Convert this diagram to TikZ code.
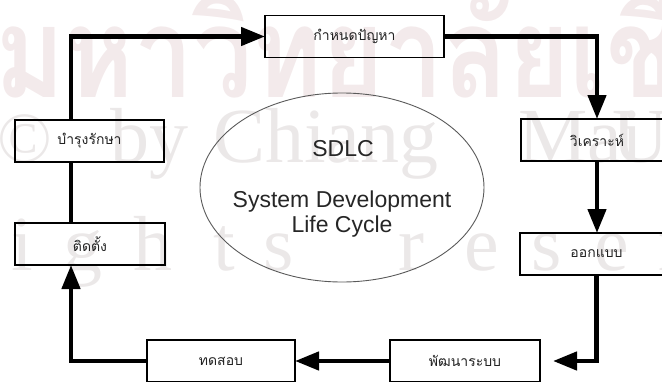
\documentclass[tikz,border=0pt]{standalone}
\usepackage{fontspec}
\setmainfont{Liberation Sans}
\newfontfamily\thaifont[Script=Thai]{Loma}
\newfontfamily\stampserif{Liberation Serif}
\usetikzlibrary{arrows.meta,shapes.geometric}

\definecolor{stamprose}{RGB}{243,234,235}
\definecolor{stampgray}{RGB}{235,232,232}
\definecolor{ovalline}{RGB}{90,90,90}
\definecolor{labeltext}{RGB}{34,34,34}

\begin{document}
\begin{tikzpicture}[x=1pt,y=-1pt,
  stage/.style={draw=black, line width=1.8pt, minimum height=42pt, inner sep=0pt, outer sep=0pt,
                font=\thaifont\fontsize{14}{16}\selectfont, text=labeltext},
  flow/.style={line width=4.5pt, -{Triangle[length=24pt,width=18pt]}},
  link/.style={line width=4.5pt},
  stamp/.style={inner sep=0pt, outer sep=0pt, anchor=base west},
  title/.style={inner sep=0pt, anchor=base, font=\fontsize{23}{26}\selectfont, text=black!85},
]
\useasboundingbox (0,0) rectangle (662,381);
\clip (0,0) rectangle (662,381);

% faint background stamp
\node[stamp, text=stamprose, font=\thaifont\bfseries\fontsize{120}{120}\selectfont] (s1) at (-5,97)
  {\scalebox{0.88}[1.05]{มหาวิทยาลัยเชียงใหม่}};
\begin{scope}[every node/.style={stamp, text=stampgray, font=\stampserif\fontsize{78}{80}\selectfont}]
  \node (s2a) at (-2,162) {\fontsize{72}{72}\selectfont ©};
  \node (s2b) at (110,162) {by};
  \node (s2c) at (213,162) {Chiang};
  \node (s2d) at (518,162) {Mai};
  \node (s2e) at (612,162) {University};
  \node (s3a) at (12,270) {i};
  \node (s3b) at (63,270) {g};
  \node (s3c) at (133,270) {h};
  \node (s3d) at (213,270) {t};
  \node (s3e) at (263,270) {s};
  \node (s3f) at (398,270) {r};
  \node (s3g) at (464,270) {e};
  \node (s3h) at (531,270) {s};
  \node (s3i) at (594,270) {e};
  \node (s3j) at (658,270) {r};
\end{scope}

% centre oval
\node[ellipse, draw=ovalline, line width=0.9pt, minimum width=284pt, minimum height=189pt, inner sep=0pt] (cyc) at (342,187.5) {};
\node[title] (t1) at (343,156) {SDLC};
\node[title] (t2) at (342,207) {System Development};
\node[title] (t3) at (342,232) {Life Cycle};

% stages of the cycle
\node[stage, minimum width=179pt] (def) at (354.5,36.5) {กำหนดปัญหา};
\node[stage, minimum width=152pt] (ana) at (597,140) {วิเคราะห์};
\node[stage, minimum width=153pt] (des) at (596.5,254) {ออกแบบ};
\node[stage, minimum width=150pt] (dev) at (465,361) {พัฒนาระบบ};
\node[stage, minimum width=148pt] (tst) at (221,361) {ทดสอบ};
\node[stage, minimum width=150pt] (ins) at (90,244) {ติดตั้ง};
\node[stage, minimum width=149pt] (mnt) at (89.5,141) {บำรุงรักษา};

% left column of the loop
\coordinate (lx) at (71,0);

% connectors
\draw[flow] (mnt.north -| lx) |- (def.west);
\draw[flow] (def.east) -| (ana.north);
\draw[flow] (ana.south) -- (ana.south |- des.north);
\draw[flow, shorten >=13pt] (des.south) |- (dev.east);
\draw[flow] (dev.west) -- (tst.east);
\draw[flow] (tst.west) -| (ins.south -| lx);
\draw[link] (ins.north -| lx) -- (mnt.south -| lx);
\end{tikzpicture}
\end{document}
